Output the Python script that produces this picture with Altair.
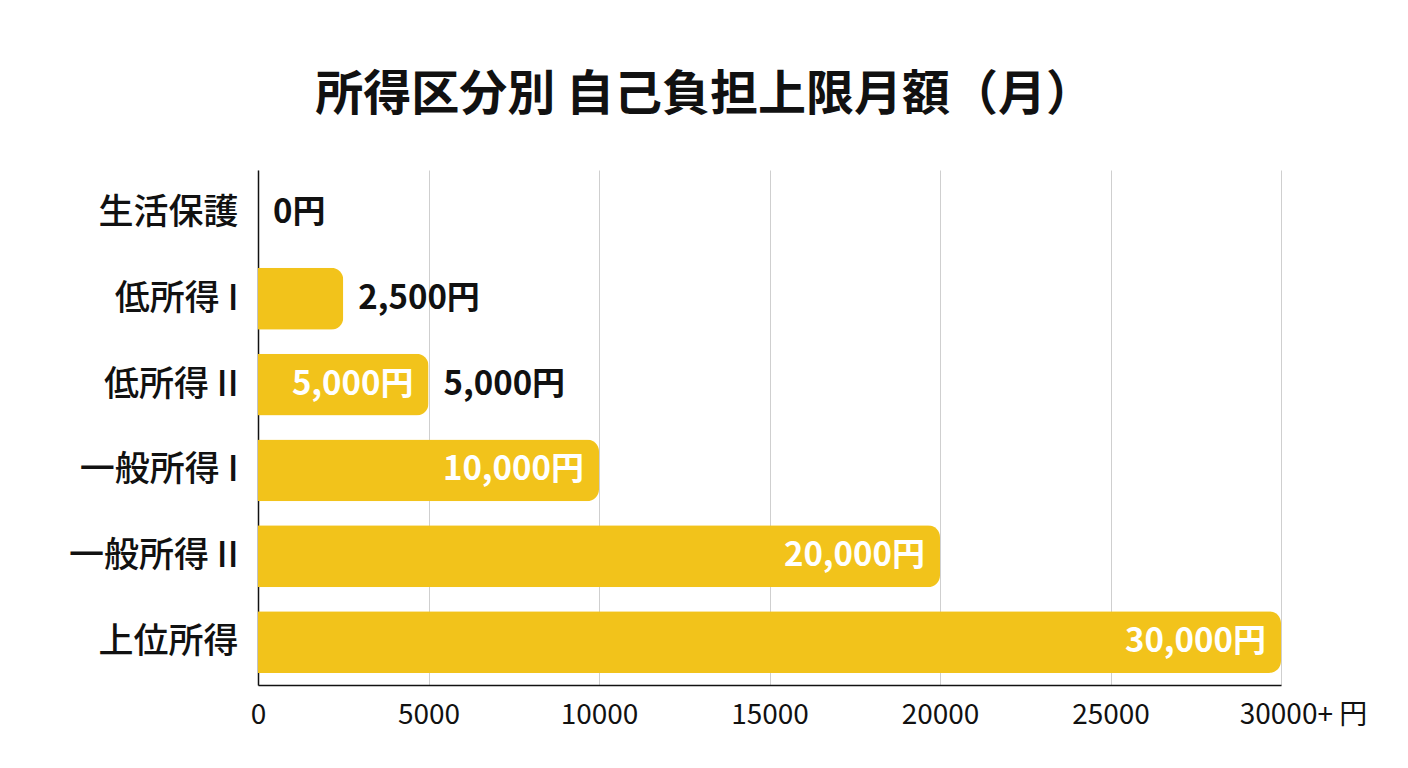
import pandas as pd
import altair as alt

categories = ["生活保護", "低所得 I", "低所得 II", "一般所得 I", "一般所得 II", "上位所得"]
values = [0, 2500, 5000, 10000, 20000, 30000]
outside = [True, True, True, False, False, False]
inside = [False, False, True, True, True, True]

df = pd.DataFrame({"cat": categories, "val": values, "out": outside, "ins": inside})
df["label"] = [f"{v:,}円" for v in values]

FONT = "Noto Sans CJK JP"
YELLOW = "#F2C31B"

y_enc = alt.Y("cat:N", sort=categories, title=None,
              scale=alt.Scale(paddingInner=0.28, paddingOuter=0.14),
              axis=alt.Axis(labelFontSize=35, labelFont=FONT, labelFontWeight=500,
                            labelColor="#111", labelPadding=20, ticks=False,
                            domainColor="#111", domainWidth=1.5))
x_enc = alt.X("val:Q", title=None,
              scale=alt.Scale(domain=[0, 30000], nice=False),
              axis=alt.Axis(values=[0, 5000, 10000, 15000, 20000, 25000, 30000],
                            labelExpr="datum.value == 30000 ? '30000+ 円' : datum.value",
                            labelOffset={"condition": {"test": "datum.value == 30000", "value": 22}, "value": 0},
                            labelFlush=False, labelFontSize=28, labelFont=FONT,
                            labelColor="#111", labelPadding=16, ticks=False,
                            domainColor="#111", domainWidth=1.5,
                            gridColor="#cfcfcf", gridWidth=1))

base = alt.Chart(df)

bars = base.mark_bar(color=YELLOW, cornerRadiusEnd=12).encode(x=x_enc, y=y_enc)

out_labels = base.transform_filter("datum.out").mark_text(
    align="left", dx=15, font=FONT, fontSize=33, fontWeight="bold", color="#111"
).encode(x="val:Q", y=alt.Y("cat:N", sort=categories), text="label:N")

in_labels = base.transform_filter("datum.ins").mark_text(
    align="right", dx=-15, font=FONT, fontSize=33, fontWeight="bold", color="#ffffff"
).encode(x="val:Q", y=alt.Y("cat:N", sort=categories), text="label:N")

chart = (bars + out_labels + in_labels).properties(
    width=1023, height=515,
    title=alt.TitleParams("所得区分別 自己負担上限月額（月）", font=FONT, fontSize=48,
                          fontWeight="bold", color="#111", anchor="middle",
                          frame="bounds", offset=50, dx=-13),
    padding={"left": 60, "top": 64, "right": 5, "bottom": 5},
    background="white",
).configure_view(stroke=None)

chart.save("out.html", embed_options={"renderer": "svg", "actions": False})
